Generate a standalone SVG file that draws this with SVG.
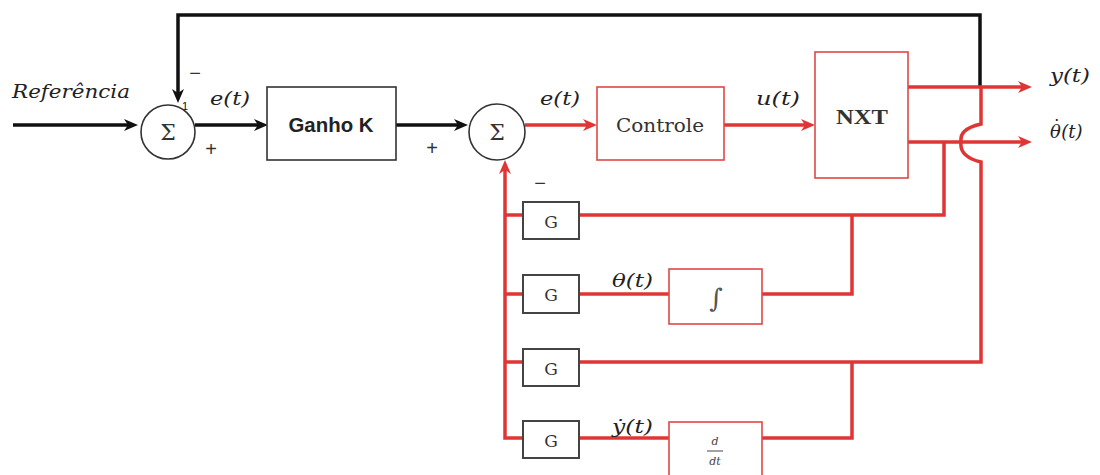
<svg xmlns="http://www.w3.org/2000/svg" width="1100" height="475" viewBox="0 0 1100 475">
<style>
.blk{stroke:#111;stroke-width:3.5;fill:none}
.red{stroke:#e03535;stroke-width:3.5;fill:none}
.box{fill:#fff;stroke:#333;stroke-width:1.6}
.rbox{fill:#fff;stroke:#e04848;stroke-width:1.6}
.gbox{fill:#fff;stroke:#444;stroke-width:2}
.sum{fill:#fff;stroke:#333;stroke-width:1.6}
.math{font-family:"DejaVu Serif","Liberation Serif",serif;font-style:italic;font-size:18px;fill:#222}
.sig{font-family:"DejaVu Serif","Liberation Serif",serif;font-size:22px;fill:#333;text-anchor:middle}
.g{font-family:"DejaVu Serif","Liberation Serif",serif;font-size:17px;fill:#333;text-anchor:middle}
.sign{font-family:"Liberation Sans",sans-serif;font-size:20px;fill:#333;text-anchor:middle}
</style>
<defs>
<marker id="ab" viewBox="0 0 14 12" refX="8" refY="6" markerWidth="14" markerHeight="12" markerUnits="userSpaceOnUse" orient="auto">
<path d="M0,0 L14,6 L0,12 L4,6 z" fill="#111"/>
</marker>
<marker id="ar" viewBox="0 0 14 12" refX="8" refY="6" markerWidth="14" markerHeight="12" markerUnits="userSpaceOnUse" orient="auto">
<path d="M0,0 L14,6 L0,12 L4,6 z" fill="#e03535"/>
</marker>
</defs>

<g id="connectors">
<path class="blk" d="M13,125 H132" marker-end="url(#ab)"/>
<path class="blk" d="M980,88 V15 H178 V97" marker-end="url(#ab)"/>
<path class="blk" d="M195,125 H262" marker-end="url(#ab)"/>
<path class="blk" d="M396,125 H462" marker-end="url(#ab)"/>
<path class="red" d="M525,125 H591" marker-end="url(#ar)"/>
<path class="red" d="M724,125 H809" marker-end="url(#ar)"/>
<path class="red" d="M908,87 H1026" marker-end="url(#ar)"/>
<path class="red" d="M908,142 H1026" marker-end="url(#ar)"/>
<path class="red" d="M944,142 V215 H579"/>
<path class="red" d="M852,215 V294 H762"/>
<path class="red" d="M669,294 H579"/>
<path class="red" d="M579,362 H981 V162 C964,158 960,150 961,142 C960,134 964,128 981,124 V88"/>
<path class="red" d="M852,362 V438 H762"/>
<path class="red" d="M669,438 H579"/>
<path class="red" d="M523,438 H505 V166" marker-end="url(#ar)"/>
<path class="red" d="M505,215 H523 M505,294 H523 M505,362 H523"/>
</g>

<g id="labels">
<text x="12" y="98" class="math" font-size="19" textLength="118" lengthAdjust="spacingAndGlyphs">Referência</text>
<text x="210" y="105" class="math" textLength="40" lengthAdjust="spacingAndGlyphs">e(t)</text>
<text x="540" y="105" class="math" textLength="40" lengthAdjust="spacingAndGlyphs">e(t)</text>
<text x="756" y="105" class="math" textLength="44" lengthAdjust="spacingAndGlyphs">u(t)</text>
<text x="1050" y="82" class="math" textLength="40" lengthAdjust="spacingAndGlyphs">y(t)</text>
<text x="1050" y="138" class="math" font-size="17">θ<tspan dx="-8.5" dy="-5" font-style="normal">˙</tspan><tspan dx="0" dy="5">(t)</tspan></text>
<text x="612" y="287" class="math" textLength="41" lengthAdjust="spacingAndGlyphs">θ(t)</text>
<text x="612" y="433" class="math" textLength="41" lengthAdjust="spacingAndGlyphs">ẏ(t)</text>
<text x="195" y="80" class="sign">−</text>
<text x="182" y="110" font-family="Liberation Sans,sans-serif" font-size="11" fill="#111">1</text>
<text x="211" y="156" class="sign">+</text>
<text x="432" y="155" class="sign">+</text>
<text x="540" y="190" class="sign">−</text>
</g>

<g id="sum1">
<circle class="sum" cx="168" cy="132" r="27"/>
<text x="168" y="140" class="sig">Σ</text>
</g>
<g id="ganho">
<rect class="box" x="267" y="87" width="129" height="73"/>
<text x="331" y="132" font-family="Liberation Sans,Arial,sans-serif" font-weight="bold" font-size="20" fill="#222" text-anchor="middle" textLength="85" lengthAdjust="spacingAndGlyphs">Ganho K</text>
</g>
<g id="sum2">
<circle class="sum" cx="497" cy="132" r="28"/>
<text x="497" y="140" class="sig">Σ</text>
</g>
<g id="controle">
<rect class="rbox" x="597" y="87" width="127" height="73"/>
<text x="660" y="132" font-family="DejaVu Serif,Liberation Serif,serif" font-size="19" fill="#333" text-anchor="middle" textLength="88" lengthAdjust="spacingAndGlyphs">Controle</text>
</g>
<g id="nxt">
<rect class="rbox" x="815" y="52" width="93" height="126"/>
<text x="862" y="124" font-family="Liberation Serif,serif" font-weight="bold" font-size="22" fill="#333" text-anchor="middle" textLength="52" lengthAdjust="spacingAndGlyphs">NXT</text>
</g>
<g id="g1">
<rect class="gbox" x="523" y="202" width="56" height="37"/>
<text x="551" y="228" class="g">G</text>
</g>
<g id="g2">
<rect class="gbox" x="523" y="275" width="56" height="38"/>
<text x="551" y="301" class="g">G</text>
</g>
<g id="g3">
<rect class="gbox" x="523" y="349" width="56" height="37"/>
<text x="551" y="375" class="g">G</text>
</g>
<g id="g4">
<rect class="gbox" x="523" y="421" width="56" height="37"/>
<text x="551" y="447" class="g">G</text>
</g>
<g id="integral">
<rect class="rbox" x="669" y="269" width="93" height="55"/>
<text x="716" y="307" font-family="DejaVu Serif,serif" font-size="26" fill="#555" text-anchor="middle">∫</text>
</g>
<g id="deriv">
<rect class="rbox" x="669" y="422" width="93" height="60"/>
<text x="715" y="445" font-family="DejaVu Serif,serif" font-style="italic" font-size="11" fill="#444" text-anchor="middle">d</text>
<line x1="707" y1="451" x2="723" y2="451" stroke="#444" stroke-width="1"/>
<text x="715" y="465" font-family="DejaVu Serif,serif" font-style="italic" font-size="11" fill="#444" text-anchor="middle">dt</text>
</g>
</svg>
